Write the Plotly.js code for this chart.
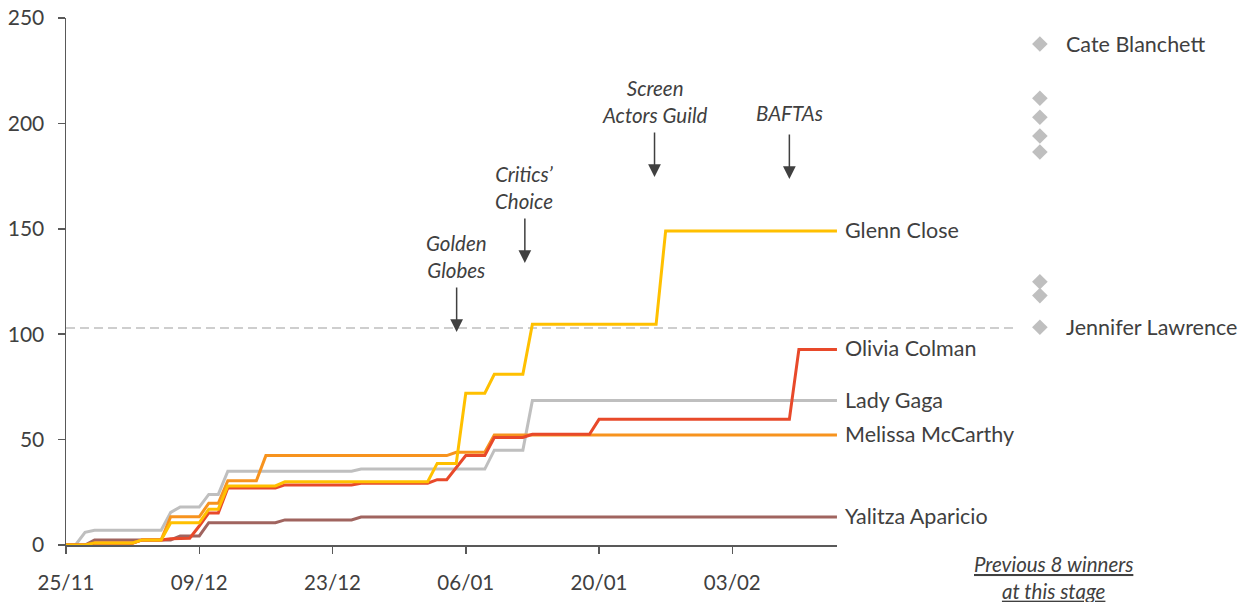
<!DOCTYPE html>
<html>
<head>
<meta charset="utf-8">
<script src="https://cdn.plot.ly/plotly-3.0.1.min.js"></script>
<style>html,body{margin:0;padding:0;background:#fff;}#chart{width:1251px;height:602px;}</style>
</head>
<body>
<div id="chart"></div>
<script>
// ---- Data (kink points; lines are linear between them) ----
const gagaDates = ['2018-11-25','2018-11-26','2018-11-27','2018-11-28','2018-12-05','2018-12-06','2018-12-07','2018-12-09','2018-12-10','2018-12-11','2018-12-12','2018-12-25','2018-12-26','2019-01-08','2019-01-09','2019-01-12','2019-01-13','2019-02-14'];
const gagaValues = [0,0,6,7,7,15.5,18,18,24,24,35,35,36,36,45,45,68.5,68.5];

const closeDates = ['2018-11-25','2018-11-27','2018-11-28','2018-12-02','2018-12-03','2018-12-05','2018-12-06','2018-12-09','2018-12-10','2018-12-11','2018-12-12','2018-12-17','2018-12-18','2019-01-02','2019-01-03','2019-01-05','2019-01-06','2019-01-08','2019-01-09','2019-01-12','2019-01-13','2019-01-26','2019-01-27','2019-02-14'];
const closeValues = [0,0,1,1,2.4,2.4,10.5,10.5,17,17,28,28,30,30,38.7,38.7,72,72,81,81,104.7,104.7,149,149];

const mccarthyDates = ['2018-11-25','2018-11-27','2018-11-28','2018-12-02','2018-12-03','2018-12-05','2018-12-06','2018-12-09','2018-12-10','2018-12-11','2018-12-12','2018-12-15','2018-12-16','2019-01-04','2019-01-05','2019-01-08','2019-01-09','2019-02-14'];
const mccarthyValues = [0,0,1,1,2.4,2.4,13.4,13.4,19.8,19.8,30.5,30.5,42.4,42.4,44,44,52.2,52.2];

const colmanDates = ['2018-11-25','2018-11-27','2018-11-28','2018-12-02','2018-12-03','2018-12-05','2018-12-06','2018-12-07','2018-12-08','2018-12-09','2018-12-10','2018-12-11','2018-12-12','2018-12-17','2018-12-18','2018-12-25','2018-12-26','2019-01-02','2019-01-03','2019-01-04','2019-01-06','2019-01-08','2019-01-09','2019-01-12','2019-01-13','2019-01-19','2019-01-20','2019-02-09','2019-02-10','2019-02-14'];
const colmanValues = [0,0,0.8,0.8,2.4,2.4,3,3.2,3.2,9,15.2,15.2,27,27,28.5,28.5,29.3,29.3,31,31,42.4,42.4,51,51,52.5,52.5,59.6,59.6,92.8,92.8];

const aparicioDates = ['2018-11-25','2018-11-27','2018-11-28','2018-12-06','2018-12-07','2018-12-09','2018-12-10','2018-12-17','2018-12-18','2018-12-25','2018-12-26','2019-02-14'];
const aparicioValues = [0,0,2.4,2.4,4.3,4.3,10.6,10.6,11.9,11.9,13.3,13.3];

const seriesNames = ['Lady Gaga','Yalitza Aparicio','Melissa McCarthy','Olivia Colman','Glenn Close'];
const seriesColors = ['#BFBFBF','#A0645F','#F7931E','#E8492A','#FFC000'];

const previousWinners = [237.7, 211.9, 202.9, 194, 186.4, 124.9, 118.3, 103.3];
const previousLabels = ['Cate Blanchett','Jennifer Lawrence'];
const previousLabelValues = [237.7, 103.3];
const thresholdValue = 103;

const events = ['Golden<br>Globes','Critics’<br>Choice','Screen<br>Actors Guild','BAFTAs'];
const eventDates = ['2019-01-05 01:00','2019-01-12 05:00','2019-01-25 20:00','2019-02-09 00:00'];
const eventArrowTips = [101, 133.8, 174.6, 173.6];
const eventTextY = [136.9, 169.6, 210.6, 204.9];

const footnoteLines = ['Previous 8 winners','at this stage'];

const xStart = '2018-11-25', xEnd = '2019-02-14';
const yTicks = [0,50,100,150,200,250];

// ---- Build ----
const FONT = 'Lato, "Open Sans", sans-serif';
const TXT = '#404040';
const AX = '#595959';
const allDates = [gagaDates, aparicioDates, mccarthyDates, colmanDates, closeDates];
const allVals = [gagaValues, aparicioValues, mccarthyValues, colmanValues, closeValues];

const traces = seriesNames.map((n,i)=>({
  type:'scatter', mode:'lines', name:n, x:allDates[i], y:allVals[i],
  line:{color:seriesColors[i], width:3}, xaxis:'x', yaxis:'y', hoverinfo:'skip'
}));
traces.push({
  type:'scatter', mode:'markers', x:previousWinners.map(()=>0.476), y:previousWinners,
  marker:{symbol:'diamond', size:12, color:'#BFBFBF'}, xaxis:'x2', yaxis:'y', hoverinfo:'skip'
});

const annotations = [];
seriesNames.forEach((n,i)=>{
  const v = allVals[i][allVals[i].length-1];
  annotations.push({x:xEnd, y:v, xref:'x', yref:'y', text:n, showarrow:false,
    xanchor:'left', yanchor:'middle', xshift:6, yshift:1, font:{family:FONT,size:21.5,color:TXT}});
});
previousLabels.forEach((n,i)=>{
  annotations.push({x:0.8422, y:previousLabelValues[i], xref:'paper', yref:'y', text:n, showarrow:false,
    xanchor:'left', yanchor:'middle', font:{family:FONT,size:21.5,color:TXT}});
});
events.forEach((e,i)=>{
  annotations.push({x:eventDates[i], y:eventArrowTips[i], xref:'x', yref:'y', text:'', showarrow:true,
    ax:0, ay:-46, arrowhead:2, arrowsize:1.7, arrowwidth:1.5, arrowcolor:'#404040'});
  annotations.push({x:eventDates[i], y:eventTextY[i], xref:'x', yref:'y', text:e, showarrow:false,
    xanchor:'center', yanchor:'middle', font:{family:FONT,size:20.5,color:TXT,style:'italic'}});
});
annotations.push({x:0.833, y:-0.0626, xref:'paper', yref:'paper',
  text:footnoteLines.map(t=>'<u>'+t+'</u>').join('<br>'),
  showarrow:false, xanchor:'center', yanchor:'middle', font:{family:FONT,size:20.5,color:TXT,style:'italic'}});

const layout = {
  width:1251, height:602,
  margin:{l:66, r:0, t:18, b:57},
  paper_bgcolor:'#fff', plot_bgcolor:'rgba(0,0,0,0)',
  showlegend:false,
  xaxis:{
    domain:[0,0.6506], type:'date', range:[xStart,xEnd],
    tickmode:'linear', tick0:xStart, dtick:14*86400000, tickformat:'%d/%m',
    showgrid:false, zeroline:false, showline:true, linecolor:AX, linewidth:1.5,
    ticks:'outside', ticklen:7, tickcolor:AX, tickwidth:1.5, ticklabelstandoff:12,
    tickfont:{family:FONT,size:20.5,color:TXT}
  },
  xaxis2:{domain:[0.66,1], range:[0,1], visible:false, anchor:'y'},
  yaxis:{
    range:[0,250], tickvals:yTicks, showgrid:false, zeroline:false,
    showline:true, linecolor:AX, linewidth:1.5,
    ticks:'outside', ticklen:7, tickcolor:AX, tickwidth:1.5, ticklabelstandoff:9,
    tickfont:{family:FONT,size:21,color:TXT}
  },
  shapes:[{type:'line', xref:'paper', yref:'y', x0:0, x1:0.7992, y0:thresholdValue, y1:thresholdValue,
    line:{color:'#BFBFBF', width:1.5, dash:'9px,5px'}, layer:'below'}],
  annotations:annotations
};

Plotly.newPlot('chart', traces, layout, {staticPlot:true, displayModeBar:false});
</script>
</body>
</html>
